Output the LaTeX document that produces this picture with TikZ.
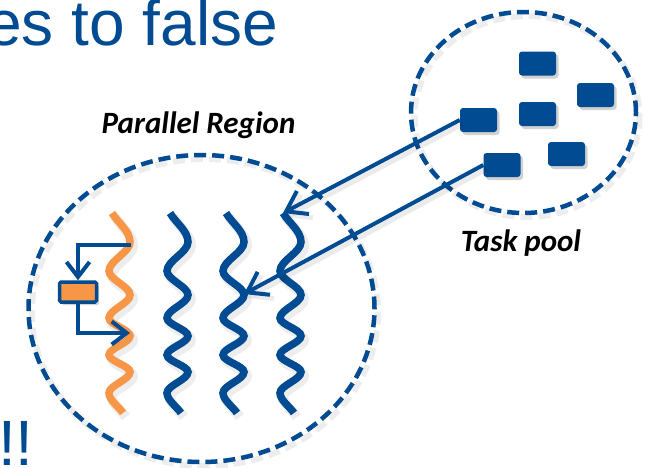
\documentclass[tikz,border=0pt]{standalone}
\usepackage{fontspec}
\newfontfamily\libsans{Liberation Sans}
\newfontfamily\carlito{Carlito}
\usetikzlibrary{arrows.meta,shapes.geometric,shadows}
\definecolor{ublue}{RGB}{0,75,145}
\definecolor{uorange}{RGB}{247,150,70}
\newcommand\wavecurve{(0,0) .. controls (6,10) and (18,18) .. (18,29) .. controls (18,39.4) and (-3,47.6) .. (-3,58) .. controls (-3,66.6) and (18,73.4) .. (18,82) .. controls (18,90.3) and (-3,96.7) .. (-3,105) .. controls (-3,111.5) and (18,116.5) .. (18,123) .. controls (18,129.8) and (-3,135.2) .. (-3,142) .. controls (-3,148.1) and (18,152.9) .. (18,159) .. controls (18,166.6) and (-3,172.4) .. (-3,180) .. controls (-3,187) and (7,194) .. (11,200)}
\tikzset{
  poolring/.style={ellipse, draw=ublue, line width=4.5pt, dash pattern=on 12pt off 6pt, inner sep=0pt},
  ringshadow/.style={draw=black, line width=6pt, opacity=0.07, dash pattern=on 12pt off 6pt},
  taskbox/.style={rectangle, fill=ublue, rounded corners=3pt, minimum width=37pt, minimum height=24pt, inner sep=0pt,
     drop shadow={opacity=0.18, shadow xshift=2.5pt, shadow yshift=-3pt, fill=black}},
  wavestroke/.style={line width=7.5pt},
  waveshadow/.style={line width=10pt, black, opacity=0.07},
  bigarrow/.style={draw=ublue, line width=4pt, -{Straight Barb[length=19pt,width=26pt]}},
  smallarrow/.style={draw=ublue, line width=4pt, -{Straight Barb[length=15pt,width=23pt]}},
  arrowshadow/.style={draw=black, opacity=0.08, line width=5pt, -{Straight Barb[length=19pt,width=26pt]}},
  titletext/.style={inner sep=0pt, anchor=base west, text=ublue, font=\libsans\fontsize{64}{72}\selectfont},
  labeltext/.style={inner sep=0pt, anchor=base, font=\carlito\bfseries\itshape\fontsize{31}{36}\selectfont},
  procbox/.style={rectangle, draw=ublue, line width=3.5pt, fill=uorange, rounded corners=1.5pt, minimum width=37pt, minimum height=20pt, inner sep=0pt}
}
\begin{document}
\begin{tikzpicture}[x=1pt,y=-1pt]
\useasboundingbox (0,0) rectangle (645,467);
\fill[white] (0,0) rectangle (645,467);

% title fragments
\node[titletext] (title) at (-14,45) {es to false};
\node[titletext] (bang) at (-2,465) {!!};

% ring shadows
\draw[ringshadow] (205,312.5) ellipse [x radius=173, y radius=153.5];
\draw[ringshadow] (527,116.5) ellipse [x radius=112.5, y radius=100.5];
% rings
\node[poolring, minimum width=346pt, minimum height=307pt] (region) at (201.5,308.5) {};
\node[poolring, minimum width=225pt, minimum height=201pt] (pool) at (523.5,112.5) {};

% labels
\node[labeltext, text=black] (prlabel) at (198.5,133) {Parallel Region};
\node[labeltext, text=black] (tplabel) at (521,251) {Task pool};

% waves
\foreach \wx/\wc in {112/uorange, 170/ublue, 226/ublue, 283/ublue}{
  \draw[waveshadow, shift={(\wx+3,217)}] \wavecurve;
  \draw[wavestroke, draw=\wc, shift={(\wx,213)}] \wavecurve;
}
\coordinate (w3top) at (283,213);
\coordinate (w2peak) at (244,294);
\coordinate (oR1) at (131,245);
\coordinate (oR3) at (130,333);

% tasks
\node[taskbox] (t1) at (537.5,63.5) {};
\node[taskbox] (t2) at (595.5,95) {};
\node[taskbox] (t3) at (537.5,114) {};
\node[taskbox] (t4) at (478.5,120) {};
\node[taskbox] (t5) at (566.5,154) {};
\node[taskbox] (t6) at (502,165) {};

% arrows from task pool into the region
\draw[arrowshadow] ([shift={(3,4)}]t4.west) -- ([shift={(3,4)}]w3top);
\draw[arrowshadow] ([shift={(3,4)}]t6.west) -- ([shift={(3,4)}]w2peak);
\draw[bigarrow] (t4.west) -- (w3top);
\draw[bigarrow] (t6.west) -- (w2peak);

% task spawned inside the orange thread
\node[procbox, drop shadow={opacity=0.18, shadow xshift=2.5pt, shadow yshift=-3pt, fill=black}] (box) at (78,292) {};
\draw[smallarrow] (oR1) -| (box.north);
\draw[smallarrow] (box.south) |- (oR3);
\end{tikzpicture}
\end{document}
